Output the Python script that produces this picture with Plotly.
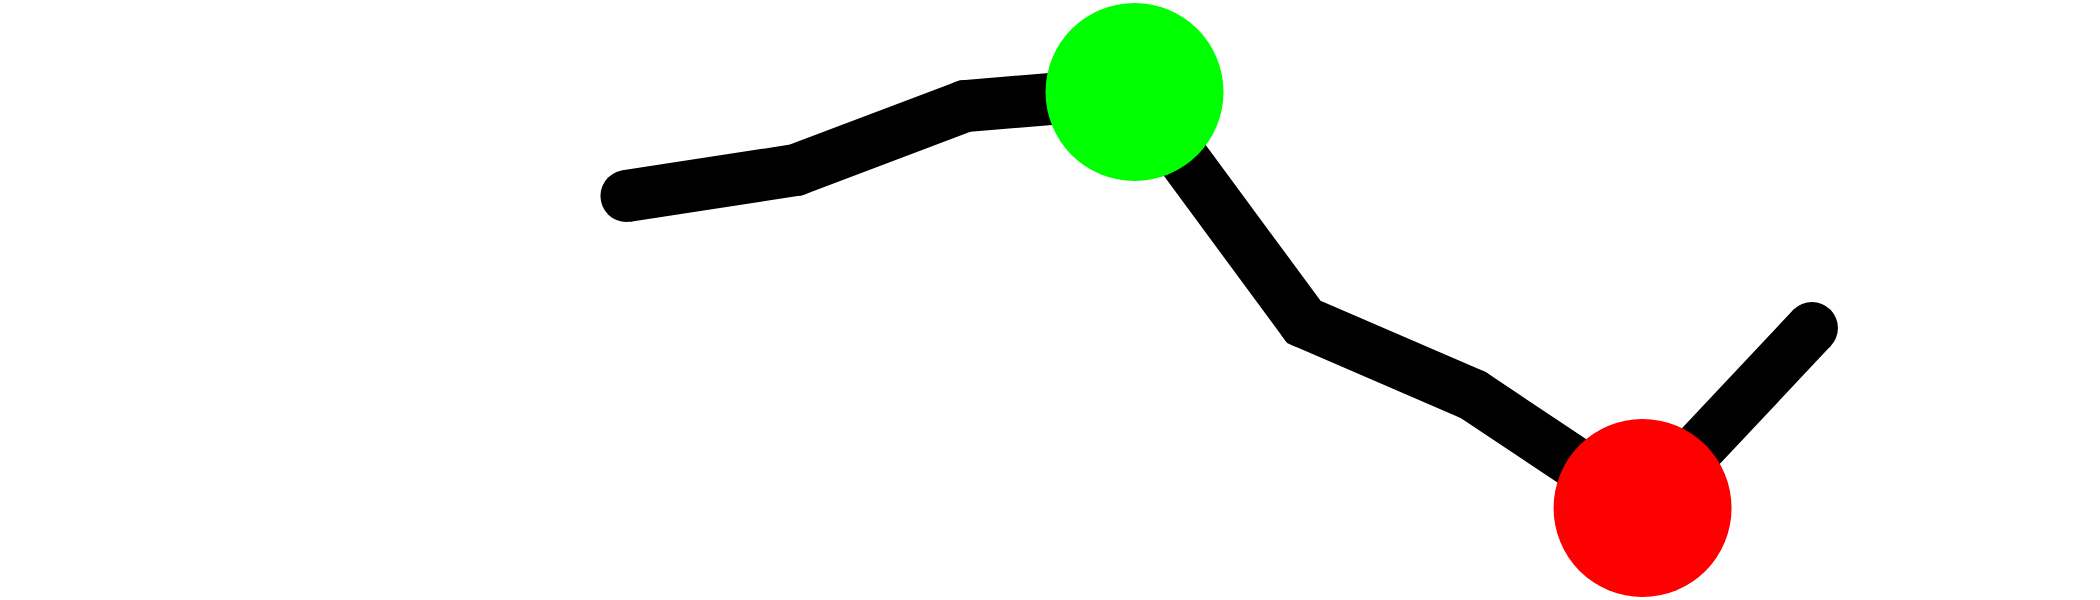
import plotly.graph_objects as go

steps = [0, 1, 2, 3, 4, 5, 6, 7]
values = [40.4, 43.0, 49.4, 50.8, 27.8, 20.5, 9.2, 27.2]

hi = values.index(max(values))
lo = values.index(min(values))

# thick black line, round ends via markers at every point
line = go.Scatter(x=steps, y=values,
                  mode='lines+markers',
                  line=dict(color='black', width=52),
                  marker=dict(color='black', size=52),
                  cliponaxis=False,
                  hoverinfo='skip')

top = go.Scatter(x=[steps[hi]], y=[values[hi]],
                 mode='markers',
                 marker=dict(color='#00ff00', size=178),
                 cliponaxis=False)

bottom = go.Scatter(x=[steps[lo]], y=[values[lo]],
                    mode='markers',
                    marker=dict(color='#ff0000', size=178),
                    cliponaxis=False)

layout = go.Layout(width=2100, height=600,
                   margin=dict(l=0, r=0, t=0, b=0),
                   showlegend=False,
                   paper_bgcolor='white',
                   plot_bgcolor='white',
                   xaxis=dict(range=[-3.699, 8.701], visible=False),
                   yaxis=dict(range=[0, 60], visible=False))

fig = go.Figure(data=[line, top, bottom], layout=layout)
# drop the default 8px page margin so the chart sits at the window corner
fig.write_html('out.html',
               config={'displayModeBar': False},
               post_script="document.body.style.margin='0';")
